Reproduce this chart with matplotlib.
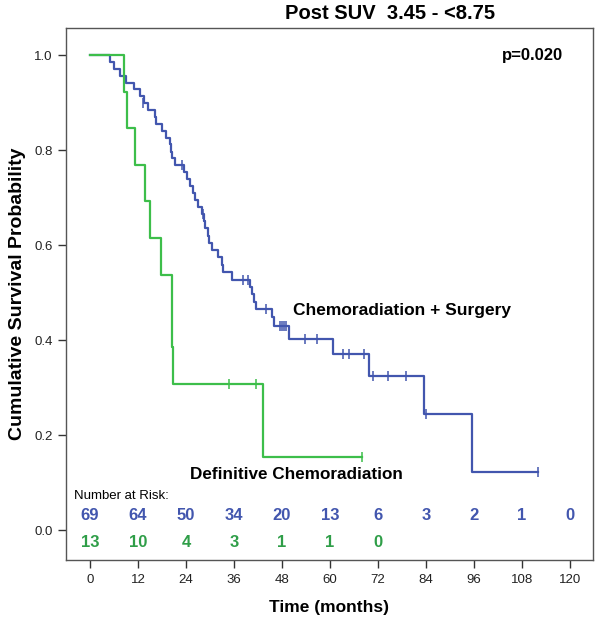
import matplotlib
matplotlib.use('Agg')
import matplotlib.pyplot as plt

plt.rcParams['font.family'] = ['Liberation Sans', 'DejaVu Sans']

# Chemoradiation + Surgery (blue), step points
blue_t = [0, 5, 6, 7.5, 9, 11, 12.5, 13.5, 14.5, 16.25, 16.6, 18, 19, 20, 20.3, 20.6,
          21.25, 23.5, 24.25, 25, 25.75, 26.2, 27, 28, 28.5, 28.8, 29.5, 29.8, 30.5,
          32, 33, 33.3, 35.5, 40, 40.4, 41, 41.5, 45.5, 46, 49.75, 60.75, 69.75,
          83.5, 95.5, 112]
blue_s = [1.0, 0.986, 0.971, 0.957, 0.942, 0.928, 0.913, 0.899, 0.884, 0.870, 0.855,
          0.841, 0.826, 0.812, 0.797, 0.783, 0.768, 0.754, 0.739, 0.724, 0.709, 0.695,
          0.680, 0.665, 0.650, 0.635, 0.620, 0.605, 0.590, 0.575, 0.559, 0.543, 0.527,
          0.511, 0.496, 0.481, 0.466, 0.448, 0.430, 0.402, 0.371, 0.325, 0.244, 0.122,
          0.122]
blue_cens_t = [13.2, 23, 28.2, 38.25, 39.5, 44, 47.5, 48, 48.5, 48.9, 53.75, 56.75,
               63.25, 64.75, 68.5, 70.8, 74.5, 79, 84, 112]
blue_cens_s = [0.899, 0.768, 0.665, 0.527, 0.527, 0.466, 0.430, 0.430, 0.430, 0.430,
               0.402, 0.402, 0.371, 0.371, 0.371, 0.325, 0.325, 0.325, 0.244, 0.122]

# Definitive Chemoradiation (green)
green_t = [0, 8.5, 9.2, 11.25, 13.75, 15, 17.75, 20.4, 20.6, 20.8, 43.2, 68]
green_s = [1.0, 0.923, 0.846, 0.769, 0.692, 0.615, 0.538, 0.462, 0.385, 0.308, 0.154, 0.154]
green_cens_t = [34.8, 41.5, 68]
green_cens_s = [0.308, 0.308, 0.154]

risk_times = [0, 12, 24, 36, 48, 60, 72, 84, 96, 108, 120]
risk_blue = [69, 64, 50, 34, 20, 13, 6, 3, 2, 1, 0]
risk_green = [13, 10, 4, 3, 1, 1, 0]

blue = '#4256AE'
green = '#3DBE4A'
green_txt = '#2F9E48'

fig = plt.figure(figsize=(6.02, 6.25), dpi=100)
ax = fig.add_axes([0.1096, 0.1040, 0.8754, 0.8512])

ax.step(blue_t, blue_s, where='post', color=blue, lw=1.6)
ax.plot(blue_cens_t, blue_cens_s, ls='none', marker='|', ms=7, mew=1.1, color=blue)
ax.step(green_t, green_s, where='post', color=green, lw=1.6)
ax.plot(green_cens_t, green_cens_s, ls='none', marker='|', ms=7, mew=1.1, color=green)

ax.set_xlim(-6, 125.75)
ax.set_ylim(-0.063, 1.057)
ax.set_xticks(range(0, 121, 12))
ax.set_yticks([0.0, 0.2, 0.4, 0.6, 0.8, 1.0])
ax.set_yticklabels(['0.0', '0.2', '0.4', '0.6', '0.8', '1.0'])
ax.tick_params(direction='out', length=6, width=1, colors='#333333', labelsize=9.5,
               labelcolor='#222222')
ax.tick_params(axis='x', pad=4)
for sp in ax.spines.values():
    sp.set_color('#555555')
    sp.set_linewidth(1)

ax.set_xlabel('Time (months)', fontsize=12.5, fontweight='bold', labelpad=10)
ax.set_ylabel('Cumulative Survival Probability', fontsize=14, fontweight='bold', labelpad=6)
fig.text(0.648, 0.979, 'Post SUV  3.45 - <8.75', ha='center', va='center',
         fontsize=14.5, fontweight='bold')

ax.text(118.25, 1.0, 'p=0.020', ha='right', va='center', fontsize=12, fontweight='bold')
ax.text(50.75, 0.463, 'Chemoradiation + Surgery', ha='left', va='center',
        fontsize=12.5, fontweight='bold')
ax.text(25, 0.118, 'Definitive Chemoradiation', ha='left', va='center',
        fontsize=12.3, fontweight='bold')

ax.text(-4, 0.071, 'Number at Risk:', ha='left', va='center', fontsize=9.5)
for t, n in zip(risk_times, risk_blue):
    ax.text(t, 0.030, str(n), ha='center', va='center', fontsize=12,
            fontweight='bold', color=blue)
for t, n in zip(risk_times, risk_green):
    ax.text(t, -0.026, str(n), ha='center', va='center', fontsize=12,
            fontweight='bold', color=green_txt)

fig.savefig('out.png', dpi=100)
